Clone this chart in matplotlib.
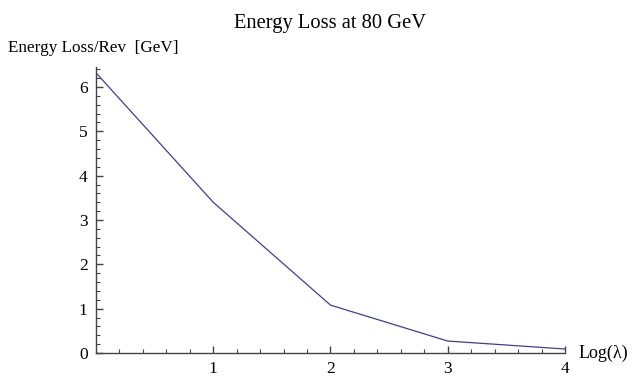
import matplotlib
matplotlib.use("Agg")
import matplotlib.pyplot as plt
from matplotlib.ticker import MultipleLocator, FixedLocator

log_lambda = [0, 1, 2, 3, 4]
energy_loss = [6.32, 3.40, 1.08, 0.27, 0.09]
x_ticks = [1, 2, 3, 4]
y_ticks = [0, 1, 2, 3, 4, 5, 6]

plt.rcParams['font.family'] = ['Liberation Serif', 'DejaVu Serif']

fig = plt.figure(figsize=(6.42, 3.88), dpi=100)
ax = fig.add_axes([0.1495, 0.0902, 0.7305, 0.737])

ax.plot(log_lambda, energy_loss, color='#3d3d9c', lw=0.9)
ax.set_xlim(0, 4)
ax.set_ylim(0, 6.45)

for s in ['top', 'right']:
    ax.spines[s].set_visible(False)
for s in ['left', 'bottom']:
    ax.spines[s].set_color('#444444')
    ax.spines[s].set_linewidth(1.0)

ax.xaxis.set_major_locator(FixedLocator(x_ticks))
ax.yaxis.set_major_locator(FixedLocator(y_ticks))
ax.xaxis.set_minor_locator(MultipleLocator(0.2))
ax.yaxis.set_minor_locator(MultipleLocator(0.2))
ax.tick_params(which='major', direction='in', length=5, width=1, color='#444444',
               labelsize=12.5, pad=6)
ax.tick_params(which='minor', direction='in', length=3, width=0.8, color='#444444')

fig.text(0.514, 0.94, 'Energy Loss at 80 GeV', fontsize=14.8, ha='center', va='center')
fig.text(0.012, 0.876, 'Energy Loss/Rev  [GeV]', fontsize=12.3, ha='left', va='center')
ax.text(1.028, 0.0, 'Log(λ)', transform=ax.transAxes, fontsize=13, ha='left', va='center')

fig.savefig('out.png', dpi=100)
